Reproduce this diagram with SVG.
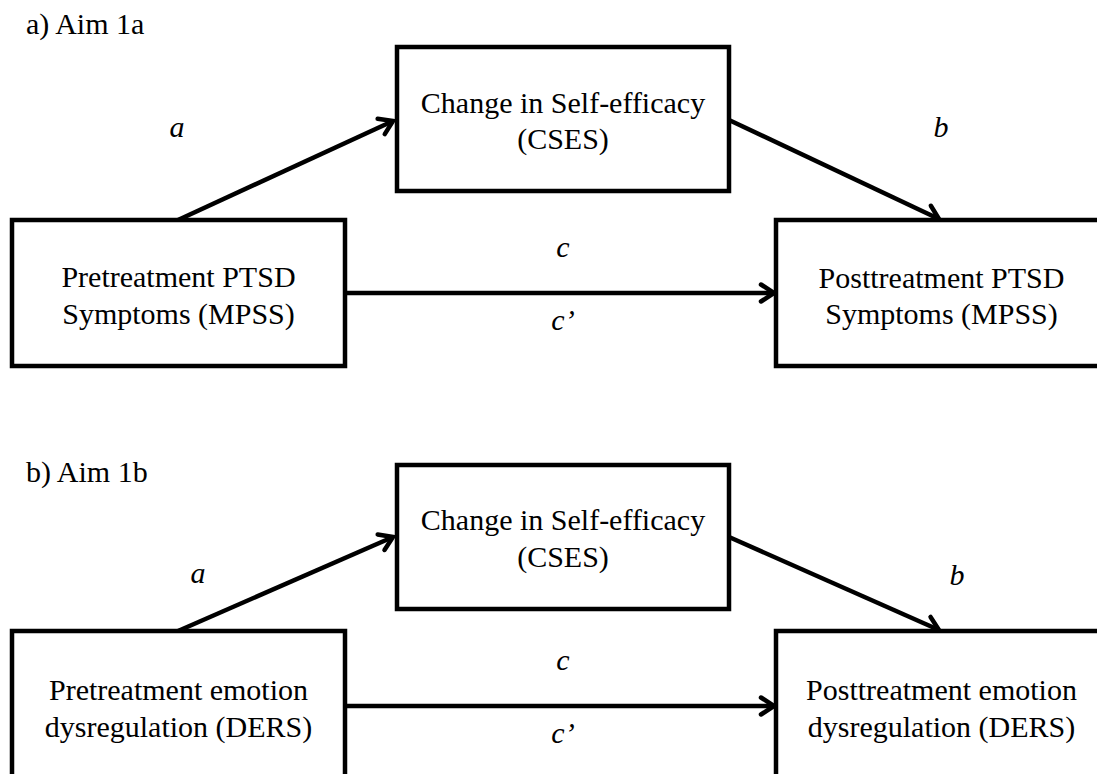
<svg xmlns="http://www.w3.org/2000/svg" width="1097" height="774" viewBox="0 0 1097 774">
<style>
.box{fill:#fff;stroke:#000;stroke-width:4.5}
.t{font-family:'Liberation Serif','Times New Roman',Times,Tinos,'DejaVu Serif',serif;font-size:30px;fill:#000}
.m{text-anchor:middle}
.i{font-style:italic}
.c{stroke:#000;stroke-width:4.5;fill:none}
</style>
<defs>
<marker id="ah" markerUnits="userSpaceOnUse" markerWidth="30" markerHeight="30" viewBox="-20 -15 30 30" refX="0" refY="0" orient="auto">
<path d="M -13 -8.5 L 0 0 L -13 8.5" fill="none" stroke="#000" stroke-width="4.5" stroke-linecap="round" stroke-linejoin="miter"/>
</marker>
</defs>
<rect width="1097" height="774" fill="#fff"/>
<text class="t" x="26" y="34">a) Aim 1a</text>
<text class="t" x="26" y="482">b) Aim 1b</text>
<g id="connectors">
<line class="c" x1="178" y1="220" x2="393" y2="121" marker-end="url(#ah)"/>
<line class="c" x1="729" y1="120" x2="939" y2="219" marker-end="url(#ah)"/>
<line class="c" x1="345" y1="293" x2="774" y2="293" marker-end="url(#ah)"/>
<line class="c" x1="178" y1="631" x2="393" y2="537" marker-end="url(#ah)"/>
<line class="c" x1="729" y1="537" x2="939" y2="630" marker-end="url(#ah)"/>
<line class="c" x1="345" y1="706" x2="774" y2="706" marker-end="url(#ah)"/>
<text class="t m i" x="177" y="137">a</text>
<text class="t m i" x="941" y="137">b</text>
<text class="t m i" x="563" y="257">c</text>
<text class="t m i" x="563" y="330">c’</text>
<text class="t m i" x="198" y="583">a</text>
<text class="t m i" x="957" y="585">b</text>
<text class="t m i" x="563" y="670">c</text>
<text class="t m i" x="563" y="743">c’</text>
</g>
<g id="pre1">
<rect class="box" x="12" y="220" width="333" height="146"/>
<text class="t m" x="178.5" y="287">Pretreatment PTSD</text>
<text class="t m" x="178.5" y="324">Symptoms (MPSS)</text>
</g>
<g id="med1">
<rect class="box" x="397" y="47" width="332" height="144"/>
<text class="t m" x="563" y="113">Change in Self-efficacy</text>
<text class="t m" x="563" y="149">(CSES)</text>
</g>
<g id="post1">
<rect class="box" x="776" y="220" width="331" height="146"/>
<text class="t m" x="941.5" y="288">Posttreatment PTSD</text>
<text class="t m" x="941.5" y="324">Symptoms (MPSS)</text>
</g>
<g id="pre2">
<rect class="box" x="12" y="631" width="333" height="150"/>
<text class="t m" x="178.5" y="700">Pretreatment emotion</text>
<text class="t m" x="178.5" y="737">dysregulation (DERS)</text>
</g>
<g id="med2">
<rect class="box" x="397" y="465" width="332" height="144"/>
<text class="t m" x="563" y="530">Change in Self-efficacy</text>
<text class="t m" x="563" y="567">(CSES)</text>
</g>
<g id="post2">
<rect class="box" x="776" y="631" width="331" height="150"/>
<text class="t m" x="941.5" y="700">Posttreatment emotion</text>
<text class="t m" x="941.5" y="737">dysregulation (DERS)</text>
</g>
</svg>
